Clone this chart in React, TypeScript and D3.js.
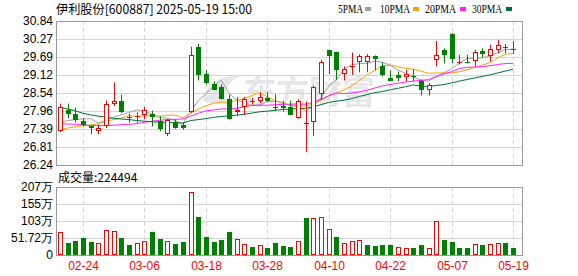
import React from 'react';
import * as d3 from 'd3';

const dates = [
  '02-19','02-20','02-21','02-24','02-25','02-26','02-27','02-28',
  '03-03','03-04','03-05','03-06','03-07','03-10','03-11','03-12','03-13','03-14','03-17','03-18',
  '03-19','03-20','03-21','03-24','03-25','03-26','03-27','03-28','03-31',
  '04-01','04-02','04-03','04-07','04-08','04-09','04-10','04-11','04-14','04-15','04-16','04-17','04-18',
  '04-21','04-22','04-23','04-24','04-25','04-28','04-29','04-30',
  '05-06','05-07','05-08','05-09','05-12','05-13','05-14','05-15','05-16','05-19'
];

const opens = [27.32,28.01,27.87,27.66,27.48,27.33,27.50,28.19,28.30,27.77,27.78,27.85,27.88,27.64,27.24,27.61,27.51,27.94,30.00,29.15,
  28.83,28.72,28.36,27.94,28.09,28.27,28.29,28.38,28.10,28.12,28.09,27.75,27.55,27.62,28.52,29.92,29.85,29.14,29.38,29.52,
  29.52,29.73,29.41,29.02,29.10,29.05,29.09,28.91,28.62,29.60,29.92,30.43,29.51,29.54,29.55,29.87,29.71,29.92,30.00,29.92];
const highs = [28.20,28.20,28.07,27.74,27.50,27.53,28.30,28.88,28.49,27.88,27.92,28.09,27.98,27.80,27.71,27.69,27.59,30.02,30.11,29.28,
  28.91,28.81,28.49,28.41,28.41,28.38,28.56,28.56,28.50,28.28,28.29,28.34,28.27,28.78,29.60,29.92,29.86,29.39,29.83,29.78,
  29.78,29.74,29.52,29.26,29.23,29.28,29.30,28.97,28.86,30.20,29.97,30.45,29.76,29.76,29.92,29.97,30.08,30.24,30.10,30.20];
const lows = [27.29,27.73,27.59,27.48,27.22,27.22,27.42,28.12,27.90,27.59,27.59,27.71,27.47,27.32,27.16,27.40,27.37,27.90,28.94,28.81,
  28.63,28.33,27.69,27.82,27.84,28.17,28.22,28.24,27.97,27.95,27.83,27.72,26.65,27.16,28.33,29.14,28.96,28.94,29.12,29.20,
  29.20,29.26,29.07,28.91,28.91,28.91,28.91,28.46,28.46,29.39,29.49,29.49,29.46,29.49,29.39,29.68,29.55,29.81,29.81,29.79];
const closes = [28.09,27.86,27.69,27.53,27.42,27.43,28.19,28.30,27.93,27.75,27.82,28.01,27.78,27.40,27.69,27.43,27.41,29.76,29.12,28.86,
  28.65,28.35,27.71,28.01,28.36,28.30,28.41,28.28,28.07,28.06,27.85,28.27,27.58,28.73,29.53,29.71,29.26,29.30,29.40,29.73,
  29.71,29.64,29.12,28.93,29.01,29.15,29.04,28.63,28.78,29.76,29.74,29.62,29.54,29.52,29.84,29.78,29.94,30.08,29.99,29.93];

// volume in 万 (10k shares)
const volumes = [69,36,42,51,39,36,77,72,51,30,36,42,69,48,42,33,40,192,117,54,
  39,45,69,48,33,24,30,21,36,27,24,42,112,113,117,80,54,36,42,47,
  30,27,30,30,23,21,21,30,21,105,45,39,21,21,33,30,33,36,36,22.45];

const ma5 = [27.60,27.66,27.69,27.71,27.72,27.58,27.65,27.77,27.85,27.92,28.00,27.96,27.86,27.75,27.74,27.66,27.55,27.94,28.29,28.52,
  28.76,28.95,28.54,28.32,28.22,28.15,28.16,28.27,28.28,28.23,28.14,28.11,27.97,28.10,28.39,28.76,28.96,29.31,29.44,29.48,
  29.48,29.56,29.52,29.43,29.28,29.17,29.05,28.95,28.92,29.07,29.19,29.31,29.49,29.64,29.65,29.66,29.72,29.83,29.93,29.94];
const ma10 = [27.37,27.42,27.46,27.49,27.52,27.56,27.64,27.69,27.73,27.82,27.79,27.81,27.82,27.80,27.83,27.83,27.75,27.90,28.02,28.13,
  28.21,28.25,28.24,28.30,28.37,28.46,28.55,28.41,28.30,28.22,28.14,28.13,28.12,28.19,28.31,28.45,28.54,28.64,28.77,28.94,
  29.12,29.26,29.41,29.43,29.38,29.33,29.30,29.24,29.17,29.18,29.18,29.18,29.22,29.28,29.36,29.43,29.51,29.66,29.78,29.80];
const ma20 = [27.56,27.55,27.54,27.52,27.50,27.50,27.50,27.51,27.53,27.54,27.56,27.60,27.64,27.67,27.69,27.70,27.71,27.80,27.89,27.97,
  28.00,28.03,28.03,28.05,28.10,28.14,28.15,28.15,28.16,28.18,28.18,28.19,28.18,28.25,28.34,28.45,28.54,28.52,28.54,28.58,
  28.63,28.70,28.77,28.81,28.85,28.89,28.92,28.94,28.97,29.06,29.15,29.22,29.32,29.36,29.37,29.38,29.41,29.45,29.48,29.49];
const ma30 = [28.09,28.03,27.97,27.89,27.84,27.80,27.77,27.73,27.71,27.69,27.66,27.64,27.62,27.61,27.60,27.59,27.58,27.66,27.69,27.72,
  27.76,27.79,27.81,27.83,27.86,27.90,27.94,27.96,27.99,28.01,28.03,28.04,28.05,28.10,28.17,28.24,28.28,28.31,28.36,28.43,
  28.49,28.55,28.59,28.64,28.69,28.74,28.80,28.76,28.75,28.78,28.81,28.86,28.92,28.97,29.02,29.07,29.12,29.18,29.24,29.30];

const priceTicks = ['30.84','30.27','29.69','29.12','28.54','27.96','27.39','26.81','26.24'];
const volTickValues = [207, 155, 103, 51.72, 0];
const volTickLabels = ['207万','155万','103万','51.72万','0'];
const xTickDates = ['02-24','03-06','03-18','03-28','04-10','04-22','05-07','05-19'];

const maSeries = [
  { name: '5PMA', data: ma5, color: '#a0a0a0' },
  { name: '10PMA', data: ma10, color: '#f2a30f' },
  { name: '20PMA', data: ma20, color: '#ff22ff' },
  { name: '30PMA', data: ma30, color: '#00703a' },
];

const RED = '#ff0000';
const GREEN = '#008000';
const FONT = 'Arial, "Liberation Sans", sans-serif';
const CJK = '"Noto Sans CJK SC", sans-serif';

export default function App() {
  const W = 578, H = 276;
  const L = 56, R = 522, pTop = 21, pBot = 165, vTop = 187, vBot = 255;
  const x = d3.scalePoint<string>().domain(dates).range([60, 513]);
  const yP = d3.scaleLinear().domain([26.24, 30.84]).range([pBot, pTop]);
  const yV = d3.scaleLinear().domain([0, 207]).range([vBot, vTop]);
  const cx = (i: number) => Math.round(x(dates[i]) as number) + 0.5;
  const mkLine = (arr: number[]) =>
    d3.line<number>().x((_, i) => x(dates[i]) as number).y(d => yP(d))(arr) || '';

  const grid = '#d4d4d4';
  const border = '#999999';

  const legendTextX = [338, 380, 425, 472];
  const legendTextW = [25, 30, 31, 30];
  const legendBoxX = [365, 413, 460, 506];

  return (
    <svg width={W} height={H} style={{ position: 'absolute', left: 0, top: 0, background: '#fff' }}
      xmlns="http://www.w3.org/2000/svg">
      <rect x={0} y={0} width={W} height={H} fill="#fff" />
      {/* header */}
      <text x={56} y={13.5} fontSize={12.5} fontFamily={CJK} fill="#000" textLength={196} lengthAdjust="spacingAndGlyphs">伊利股份[600887] 2025-05-19 15:00</text>
      {/* legend */}
      {maSeries.map((s, k) => (
        <g key={s.name}>
          <text x={legendTextX[k]} y={13} fontSize={12} fontFamily='"Liberation Serif", serif' fill="#000"
            textLength={legendTextW[k]} lengthAdjust="spacingAndGlyphs">{s.name}</text>
          <rect x={legendBoxX[k]} y={7} width={6} height={4} fill={s.color} />
        </g>
      ))}

      {/* watermark */}
      <g opacity={0.6}>
        <path d="M203,100 C205,84 222,74 240,76 C228,82 222,92 226,104 C218,104 208,104 203,100 Z" fill="#d8d8dc" />
        <text x={243} y={104} fontSize={33} fontWeight="bold" fontFamily={CJK} fill="#d8d8dc">东方财富</text>
      </g>

      {/* grids */}
      {priceTicks.slice(1, -1).map(t => (
        <line key={t} x1={L} x2={R} y1={Math.round(yP(+t)) + 0.5} y2={Math.round(yP(+t)) + 0.5} stroke={grid} />
      ))}
      {volTickValues.slice(1, -1).map(v => (
        <line key={v} x1={L} x2={R} y1={Math.round(yV(v)) + 0.5} y2={Math.round(yV(v)) + 0.5} stroke={grid} />
      ))}
      {xTickDates.map(d => {
        const gx = Math.round(x(d) as number) + 0.5;
        return (
          <g key={d}>
            <line x1={gx} x2={gx} y1={pTop} y2={pBot} stroke={grid} strokeDasharray="4,3" />
            <line x1={gx} x2={gx} y1={vTop} y2={vBot} stroke={grid} strokeDasharray="4,3" />
            <text x={gx} y={270} textAnchor="middle" fontSize={12} fontFamily={FONT} fill={RED}>{d}</text>
          </g>
        );
      })}

      {/* price labels */}
      {priceTicks.map(t => (
        <text key={t} x={53} y={yP(+t) + 4} textAnchor="end" fontSize={12} fontFamily={FONT} fill="#000">{t}</text>
      ))}
      {/* volume labels */}
      {volTickValues.map((v, k) => (
        <text key={v} x={53} y={yV(v) + 4} textAnchor="end" fontSize={12} fontFamily={FONT} fill="#000">{volTickLabels[k]}</text>
      ))}
      <text x={58} y={182} fontSize={12} fontFamily={CJK} fill="#000">成交量:224494</text>

      {/* MA lines */}
      {maSeries.map(s => (
        <path key={s.name} d={mkLine(s.data)} fill="none" stroke={s.color} strokeWidth={1} />
      ))}

      {/* candles */}
      {dates.map((d, i) => {
        const o = opens[i], c = closes[i];
        const up = c >= o;
        const col = up ? RED : GREEN;
        const X = cx(i);
        const top = Math.round(yP(Math.max(o, c)));
        const bot = Math.round(yP(Math.min(o, c)));
        const h = Math.max(1, bot - top);
        return (
          <g key={d}>
            <line x1={X} x2={X} y1={yP(highs[i])} y2={yP(lows[i])} stroke={col} strokeWidth={1} />
            {up ? (
              h <= 1 ? <rect x={X - 2.5} y={top} width={5} height={1} fill={col} />
                : <rect x={X - 2} y={top + 0.5} width={4} height={h - 1} fill="#fff" stroke={col} strokeWidth={1} />
            ) : (
              <rect x={X - 2.5} y={top} width={5} height={h} fill={col} />
            )}
          </g>
        );
      })}

      {/* volume bars */}
      {dates.map((d, i) => {
        const up = i === 0 ? true : closes[i] >= closes[i - 1];
        const X = cx(i);
        const top = Math.round(yV(volumes[i]));
        const h = vBot - top;
        return up
          ? <rect key={d} x={X - 2} y={top + 0.5} width={4} height={h - 1} fill="#fff" stroke={RED} strokeWidth={1} />
          : <rect key={d} x={X - 2.5} y={top} width={5} height={h} fill={GREEN} />;
      })}

      {/* frames */}
      <rect x={L + 0.5} y={pTop + 0.5} width={R - L} height={pBot - pTop} fill="none" stroke={border} />
      <rect x={L + 0.5} y={vTop + 0.5} width={R - L} height={vBot - vTop} fill="none" stroke={border} />
    </svg>
  );
}
